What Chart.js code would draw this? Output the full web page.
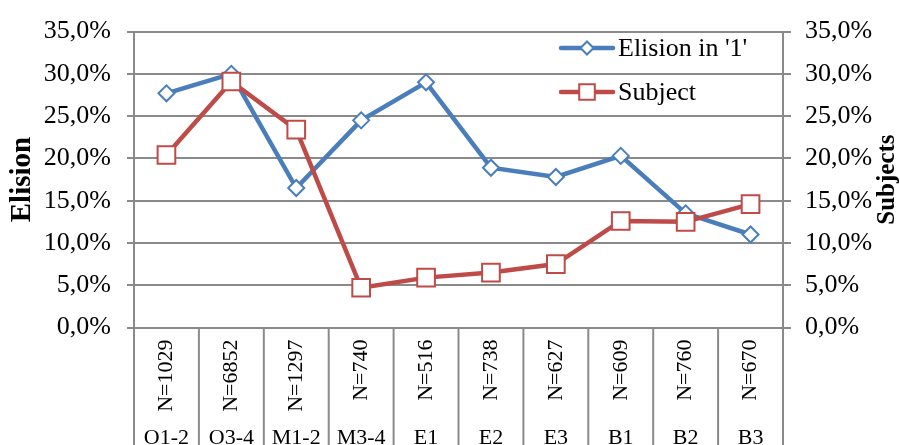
<!DOCTYPE html>
<html>
<head>
<meta charset="utf-8">
<script src="https://cdn.jsdelivr.net/npm/chart.js@4/dist/chart.umd.min.js"></script>
<style>
  html, body { margin: 0; padding: 0; background: #fff; overflow: hidden; }
  canvas { display: block; }
</style>
</head>
<body>
<canvas id="chart" width="900" height="445"></canvas>
<script>
// Data
const categories = ['O1-2', 'O3-4', 'M1-2', 'M3-4', 'E1', 'E2', 'E3', 'B1', 'B2', 'B3'];
const sampleSizes = ['N=1029', 'N=6852', 'N=1297', 'N=740', 'N=516', 'N=738', 'N=627', 'N=609', 'N=760', 'N=670'];
const elision = [27.7, 30.0, 16.5, 24.5, 29.0, 18.9, 17.8, 20.3, 13.5, 11.0];
const subject = [20.4, 29.1, 23.4, 4.7, 5.9, 6.5, 7.5, 12.6, 12.5, 14.6];
const seriesNames = ["Elision in '1'", 'Subject'];
const axisTitles = ['Elision', 'Subjects'];

const SERIF = "'Liberation Serif', 'Times New Roman', serif";
const GRID = '#8a8a8a';
const BLUE = '#4A7EBB';
const RED = '#BE4B48';

const pct = v => v.toFixed(1).replace('.', ',') + '%';

// Draw a diamond or square marker (used by the legend)
function marker(ctx, style, x, y, r, color) {
  ctx.save();
  ctx.beginPath();
  if (style === 'rectRot') {
    ctx.moveTo(x - r, y); ctx.lineTo(x, y - r); ctx.lineTo(x + r, y); ctx.lineTo(x, y + r);
  } else {
    ctx.rect(x - r, y - r, 2 * r, 2 * r);
  }
  ctx.closePath();
  ctx.fillStyle = '#fff';
  ctx.fill();
  ctx.lineWidth = 2;
  ctx.strokeStyle = color;
  ctx.stroke();
  ctx.restore();
}

// Table under the x axis (separators + rotated N labels), legend, right title
const extras = {
  id: 'extras',
  afterDraw(chart) {
    const ctx = chart.ctx;
    const area = chart.chartArea;
    const xs = chart.scales.x;
    const n = categories.length;

    ctx.save();
    ctx.strokeStyle = GRID;
    ctx.lineWidth = 2;
    for (let i = 0; i <= n; i++) {
      let px;
      if (i === 0) px = area.left;
      else if (i === n) px = area.right;
      else px = (xs.getPixelForTick(i - 1) + xs.getPixelForTick(i)) / 2;
      ctx.beginPath();
      ctx.moveTo(px, area.bottom);
      ctx.lineTo(px, chart.height);
      ctx.stroke();
    }
    ctx.restore();

    // N= labels, rotated, top-aligned under the axis
    sampleSizes.forEach((lab, i) => {
      ctx.save();
      ctx.translate(xs.getPixelForTick(i), area.bottom + 12);
      ctx.rotate(-Math.PI / 2);
      ctx.font = '22px ' + SERIF;
      ctx.fillStyle = '#000';
      ctx.textAlign = 'right';
      ctx.textBaseline = 'middle';
      ctx.fillText(lab, 0, 0);
      ctx.restore();
    });

    // legend
    const rows = [48, 92];
    chart.data.datasets.forEach((ds, i) => {
      const y = rows[i];
      ctx.save();
      ctx.strokeStyle = ds.borderColor;
      ctx.lineWidth = ds.borderWidth;
      ctx.lineCap = 'round';
      ctx.beginPath();
      ctx.moveTo(561, y);
      ctx.lineTo(613, y);
      ctx.stroke();
      ctx.restore();
      marker(ctx, ds.pointStyle, 587, y, ds.pointStyle === 'rectRot' ? 6.5 : 7.8, ds.borderColor);
      ctx.save();
      ctx.fillStyle = '#000';
      ctx.font = '26px ' + SERIF;
      ctx.textBaseline = 'middle';
      ctx.fillText(ds.label, 618, y + 1);
      ctx.restore();
    });

    // right axis title, reading bottom to top
    ctx.save();
    ctx.translate(888, (area.top + area.bottom) / 2);
    ctx.rotate(-Math.PI / 2);
    ctx.font = 'bold 25px ' + SERIF;
    ctx.fillStyle = '#000';
    ctx.textAlign = 'center';
    ctx.textBaseline = 'middle';
    ctx.fillText(axisTitles[1], 0, 0);
    ctx.restore();
  }
};

new Chart(document.getElementById('chart'), {
  type: 'line',
  data: {
    labels: sampleSizes,
    datasets: [
      {
        label: seriesNames[0],
        data: elision,
        yAxisID: 'y',
        order: 1,
        borderColor: BLUE,
        borderWidth: 4.5,
        pointStyle: 'rectRot',
        pointRadius: 8,
        pointBackgroundColor: '#fff',
        pointBorderColor: BLUE,
        pointBorderWidth: 2,
        tension: 0,
        clip: false
      },
      {
        label: seriesNames[1],
        data: subject,
        yAxisID: 'y2',
        order: 0,
        borderColor: RED,
        borderWidth: 4.5,
        pointStyle: 'rect',
        pointRadius: 12.5,
        pointBackgroundColor: '#fff',
        pointBorderColor: RED,
        pointBorderWidth: 2,
        tension: 0,
        clip: false
      }
    ]
  },
  options: {
    responsive: false,
    animation: false,
    layout: { padding: { top: 27, left: 0, right: 0, bottom: 0 } },
    plugins: { legend: { display: false }, tooltip: { enabled: false } },
    scales: {
      x: {
        type: 'category',
        position: 'bottom',
        offset: true,
        grid: { display: false },
        border: { display: false },
        ticks: { display: false },
        afterFit: s => { s.height = 92; }
      },
      x2: {
        type: 'category',
        position: 'bottom',
        labels: categories,
        offset: true,
        grid: { display: false },
        border: { display: false },
        ticks: {
          autoSkip: false,
          maxRotation: 0,
          padding: -2,
          color: '#000',
          font: { family: SERIF, size: 22 }
        },
        afterFit: s => { s.height = 25.5; }
      },
      y: {
        position: 'left',
        min: 0,
        max: 35,
        grid: { color: GRID, lineWidth: 2, tickLength: 7 },
        border: { color: GRID, width: 2 },
        ticks: {
          stepSize: 5,
          padding: 16,
          color: '#000',
          font: { family: SERIF, size: 26 },
          callback: v => pct(v)
        },
        title: {
          display: true,
          text: axisTitles[0],
          color: '#000',
          font: { family: SERIF, size: 29, weight: 'bold' },
          padding: { top: 5, bottom: 0 }
        },
        afterFit: s => { s.width = 134; }
      },
      y2: {
        position: 'right',
        min: 0,
        max: 35,
        grid: { drawOnChartArea: false, color: GRID, lineWidth: 2, tickLength: 8 },
        border: { color: GRID, width: 2 },
        ticks: {
          stepSize: 5,
          padding: 14,
          color: '#000',
          font: { family: SERIF, size: 26 },
          callback: v => pct(v)
        },
        afterFit: s => { s.width = 117; }
      }
    }
  },
  plugins: [extras]
});
</script>
</body>
</html>
